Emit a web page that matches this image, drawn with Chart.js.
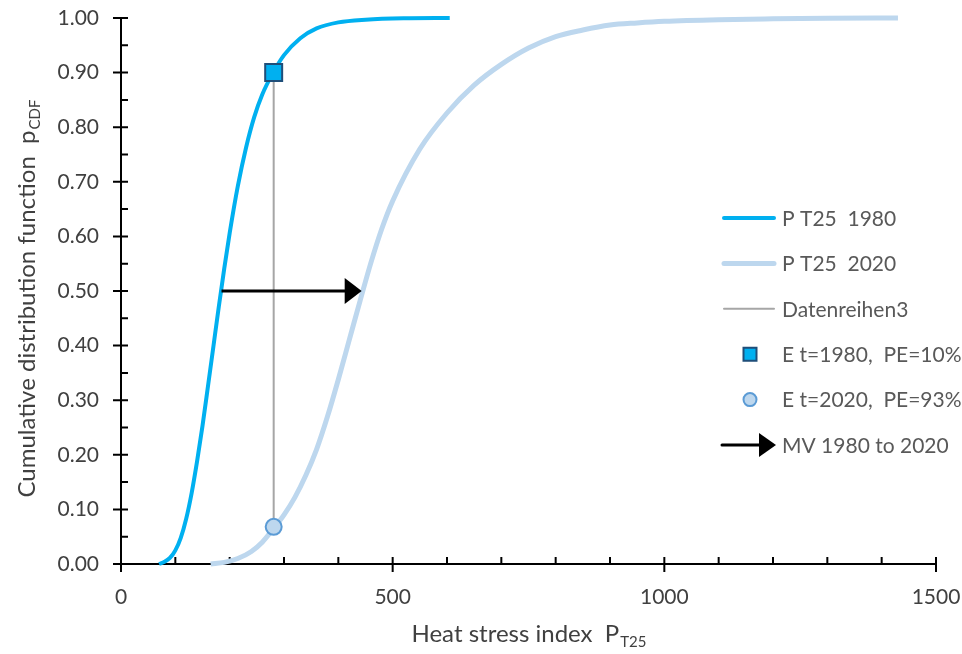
<!DOCTYPE html>
<html>
<head>
<meta charset="utf-8">
<title>Heat stress index - cumulative distribution</title>
<script src="https://cdn.jsdelivr.net/npm/chart.js@4.4.0/dist/chart.umd.min.js"></script>
<style>
  html, body { margin: 0; padding: 0; background: #fff; }
  #wrap { width: 962px; height: 654px; }
</style>
</head>
<body>
<div id="wrap"><canvas id="cdfChart" width="962" height="654"></canvas></div>
<script>
// ---------- Data ----------
const x1980 = [70, 80, 90, 100, 110, 120, 130, 140, 150, 160, 170, 180, 190, 200, 215, 230, 245, 260, 280, 300, 330, 360, 400, 450, 520, 605];
const p1980 = [0, 0.004, 0.011, 0.025, 0.048, 0.083, 0.130, 0.188, 0.253, 0.325, 0.398, 0.471, 0.541, 0.606, 0.692, 0.762, 0.818, 0.860, 0.900, 0.932, 0.963, 0.981, 0.992, 0.997, 0.9995, 1.000];

const x2020 = [165, 190, 215, 240, 260, 280, 300, 320, 340, 360, 380, 400, 420, 440, 460, 480, 500, 550, 600, 650, 700, 750, 800, 850, 900, 950, 1000, 1100, 1200, 1300, 1430];
const p2020 = [0, 0.003, 0.010, 0.023, 0.040, 0.064, 0.090, 0.122, 0.162, 0.210, 0.270, 0.338, 0.410, 0.482, 0.552, 0.614, 0.665, 0.760, 0.826, 0.877, 0.915, 0.945, 0.966, 0.978, 0.987, 0.991, 0.994, 0.997, 0.9985, 0.9995, 1.000];

// event marker: same heat stress value, read on both curves
const eventX = [281];
const eventP1980 = [0.90];
const eventP2020 = [0.068];

// shift arrow (median 1980 -> median 2020)
const shiftX = [185, 443];
const shiftP = [0.50, 0.50];

// axis ticks
const xTicks = [0, 500, 1000, 1500];
const yTicks = [0, 0.1, 0.2, 0.3, 0.4, 0.5, 0.6, 0.7, 0.8, 0.9, 1.0];
const X_MINOR = 100;
const Y_MINOR = 0.05;

// ---------- helpers ----------
const FONT = 'Lato, "Open Sans", sans-serif';
function pts(xs, ys) { return xs.map((v, i) => ({ x: v, y: ys[i] })); }

// ---------- Axes drawn Excel style (crossing major ticks, inside minor ticks) ----------
const excelAxes = {
  id: 'excelAxes',
  beforeDatasetsDraw(chart) {
    const { ctx, scales: { x, y } } = chart;
    const xa = x.getPixelForValue(x.min), xb = x.getPixelForValue(x.max);
    const ya = y.getPixelForValue(y.min), yb = y.getPixelForValue(y.max);
    ctx.save();
    ctx.strokeStyle = '#000';
    ctx.lineWidth = 2;
    ctx.beginPath();
    ctx.moveTo(xa, ya); ctx.lineTo(xb, ya);
    ctx.moveTo(xa, ya); ctx.lineTo(xa, yb);
    // minor ticks (inside)
    for (let v = x.min + X_MINOR; v < x.max; v += X_MINOR) {
      const px = x.getPixelForValue(v);
      ctx.moveTo(px, ya); ctx.lineTo(px, ya - 7);
    }
    for (let v = y.min + Y_MINOR; v < y.max; v += Y_MINOR) {
      const py = y.getPixelForValue(v);
      ctx.moveTo(xa, py); ctx.lineTo(xa + 7, py);
    }
    // major ticks (cross)
    x.ticks.forEach(t => {
      const px = x.getPixelForValue(t.value);
      ctx.moveTo(px, ya - 7); ctx.lineTo(px, ya + 8);
    });
    y.ticks.forEach(t => {
      const py = y.getPixelForValue(t.value);
      ctx.moveTo(xa - 8, py); ctx.lineTo(xa + 7, py);
    });
    ctx.stroke();

    // tick labels
    ctx.fillStyle = '#404040';
    ctx.font = '21px ' + FONT;
    ctx.textBaseline = 'middle';
    ctx.textAlign = 'right';
    y.ticks.forEach(t => ctx.fillText(t.value.toFixed(2), xa - 22, y.getPixelForValue(t.value)));
    ctx.textAlign = 'center';
    x.ticks.forEach(t => ctx.fillText(String(t.value), x.getPixelForValue(t.value), ya + 33));

    // axis titles with subscripts
    const ca = chart.chartArea;
    drawTitle(ctx, 'Heat stress index  P', 'T25', (ca.left + ca.right) / 2, 642, 0);
    drawTitle(ctx, 'Cumulative distribution function  p', 'CDF', 35, (ca.top + ca.bottom) / 2 + 8, -Math.PI / 2);
    ctx.restore();
  }
};

function drawTitle(ctx, main, sub, cx, cy, rot) {
  ctx.save();
  ctx.translate(cx, cy);
  ctx.rotate(rot);
  ctx.fillStyle = '#404040';
  ctx.textBaseline = 'alphabetic';
  ctx.textAlign = 'left';
  ctx.font = '24px ' + FONT;
  const w1 = ctx.measureText(main).width;
  ctx.font = '15px ' + FONT;
  const w2 = ctx.measureText(sub).width;
  const start = -(w1 + w2) / 2;
  ctx.font = '24px ' + FONT;
  ctx.fillText(main, start, 0);
  ctx.font = '15px ' + FONT;
  ctx.fillText(sub, start + w1 + 1, 5);
  ctx.restore();
}

// ---------- Arrow (shift) drawn from the dataset's own points ----------
function drawArrow(ctx, x0, y0, x1, y1, lw, headLen, headHalf) {
  ctx.save();
  ctx.strokeStyle = '#000';
  ctx.fillStyle = '#000';
  ctx.lineWidth = lw;
  ctx.beginPath();
  ctx.moveTo(x0, y0);
  ctx.lineTo(x1 - headLen + 1, y1);
  ctx.stroke();
  ctx.beginPath();
  ctx.moveTo(x1, y1);
  ctx.lineTo(x1 - headLen, y1 - headHalf);
  ctx.lineTo(x1 - headLen, y1 + headHalf);
  ctx.closePath();
  ctx.fill();
  ctx.restore();
}

const shiftArrow = {
  id: 'shiftArrow',
  afterDatasetsDraw(chart) {
    const meta = chart.getDatasetMeta(5);
    const a = meta.data[0], b = meta.data[meta.data.length - 1];
    drawArrow(chart.ctx, a.x, a.y, b.x, b.y, 3, 17, 13);
  }
};

// ---------- Legend (inside plot, right side) ----------
const sideLegend = {
  id: 'sideLegend',
  afterDraw(chart) {
    const ctx = chart.ctx;
    const ds = chart.data.datasets;
    const left = 722, right = 776, textX = 782, top = 218, step = 45.4;
    ctx.save();
    ds.forEach((d, i) => {
      const cy = top + i * step;
      if (d.legendKind === 'line') {
        ctx.strokeStyle = d.borderColor;
        ctx.lineWidth = d.borderWidth;
        ctx.lineCap = 'round';
        ctx.beginPath();
        ctx.moveTo(left + 2, cy); ctx.lineTo(right - 2, cy);
        ctx.stroke();
      } else if (d.legendKind === 'marker') {
        ctx.fillStyle = d.backgroundColor;
        ctx.strokeStyle = d.borderColor;
        ctx.lineWidth = d.borderWidth;
        ctx.beginPath();
        if (d.pointStyle === 'rect') {
          const s = d.legendRadius;
          ctx.rect(750 - s, cy - s, 2 * s, 2 * s);
        } else {
          ctx.arc(750, cy, d.legendRadius, 0, Math.PI * 2);
        }
        ctx.fill();
        ctx.stroke();
      } else if (d.legendKind === 'arrow') {
        drawArrow(ctx, left, cy, right, cy, 3, 17, 12);
      }
      ctx.fillStyle = '#595959';
      ctx.font = '21px ' + FONT;
      ctx.textAlign = 'left';
      ctx.textBaseline = 'middle';
      ctx.fillText(d.label, textX, cy + 1);
    });
    ctx.restore();
  }
};

// ---------- Chart ----------
const ctx = document.getElementById('cdfChart').getContext('2d');
const chart = new Chart(ctx, {
  type: 'scatter',
  data: {
    datasets: [
      {
        label: 'P T25  1980', legendKind: 'line',
        data: pts(x1980, p1980), showLine: true,
        borderColor: '#00B0F0', borderWidth: 4, pointRadius: 0,
        cubicInterpolationMode: 'monotone', clip: 6, order: 5
      },
      {
        label: 'P T25  2020', legendKind: 'line',
        data: pts(x2020, p2020), showLine: true,
        borderColor: '#BDD7EE', borderWidth: 5, pointRadius: 0,
        cubicInterpolationMode: 'monotone', clip: 6, order: 4
      },
      {
        label: 'Datenreihen3', legendKind: 'line',
        data: pts([eventX[0], eventX[0]], [eventP1980[0], eventP2020[0]]), showLine: true,
        borderColor: '#A6A6A6', borderWidth: 2, pointRadius: 0, order: 3
      },
      {
        label: 'E t=1980,  PE=10%', legendKind: 'marker',
        data: pts(eventX, eventP1980),
        pointStyle: 'rect', pointRadius: 12, legendRadius: 6.5,
        backgroundColor: '#00B0F0', borderColor: '#1F4E79', borderWidth: 2, order: 2
      },
      {
        label: 'E t=2020,  PE=93%', legendKind: 'marker',
        data: pts(eventX, eventP2020),
        pointStyle: 'circle', pointRadius: 8, legendRadius: 6.5,
        backgroundColor: '#BDD7EE', borderColor: '#5B9BD5', borderWidth: 2, order: 1
      },
      {
        label: 'MV 1980 to 2020', legendKind: 'arrow',
        data: pts(shiftX, shiftP), showLine: false,
        borderColor: '#000', pointRadius: 0, order: 0
      }
    ]
  },
  options: {
    responsive: false,
    devicePixelRatio: 1,
    animation: false,
    events: [],
    layout: { padding: { left: 121, right: 26, top: 18, bottom: 90 } },
    plugins: { legend: { display: false }, tooltip: { enabled: false } },
    scales: {
      x: {
        type: 'linear', min: 0, max: 1500,
        afterBuildTicks: s => { s.ticks = xTicks.map(v => ({ value: v })); },
        grid: { display: false, drawTicks: false },
        border: { display: false },
        ticks: { display: false }
      },
      y: {
        type: 'linear', min: 0, max: 1,
        afterBuildTicks: s => { s.ticks = yTicks.map(v => ({ value: v })); },
        grid: { display: false, drawTicks: false },
        border: { display: false },
        ticks: { display: false }
      }
    }
  },
  plugins: [excelAxes, shiftArrow, sideLegend]
});
</script>
</body>
</html>
